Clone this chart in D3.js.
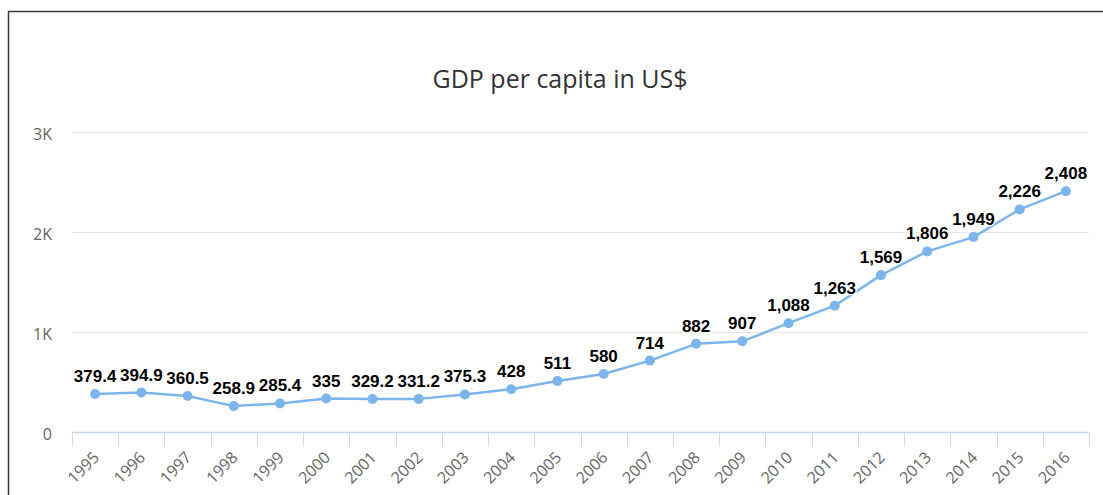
<!DOCTYPE html>
<html>
<head>
<meta charset="utf-8">
<script src="https://cdn.jsdelivr.net/npm/d3@7"></script>
<style>
  html, body { margin: 0; padding: 0; background: #fff; }
  svg { display: block; }
</style>
</head>
<body>
<svg id="chart" width="1103" height="495"></svg>
<script>
// Data
const years = ['1995', '1996', '1997', '1998', '1999', '2000', '2001', '2002', '2003', '2004', '2005',
  '2006', '2007', '2008', '2009', '2010', '2011', '2012', '2013', '2014', '2015', '2016'];
const gdpPerCapita = [379.4, 394.9, 360.5, 258.9, 285.4, 335, 329.2, 331.2, 375.3, 428, 511,
  580, 714, 882, 907, 1088, 1263, 1569, 1806, 1949, 2226, 2408];
const yTicks = [0, 1000, 2000, 3000];
const yTickLabels = ['0', '1K', '2K', '3K'];

const width = 1103;
const height = 495;
const margin = { top: 132, right: 14, bottom: 63, left: 72 };

const svg = d3.select('#chart');
const font = '"Open Sans", "DejaVu Sans", sans-serif';

// Frame (only top and left edges visible in the picture)
svg.append('path')
  .attr('d', `M8.5,${height} V11.5 H${width}`)
  .attr('fill', 'none')
  .attr('stroke', '#3a3a3a')
  .attr('stroke-width', 1.5);

// Title
svg.append('text')
  .attr('x', 560)
  .attr('y', 88)
  .attr('text-anchor', 'middle')
  .style('font-family', font)
  .style('font-size', '25px')
  .style('fill', '#333')
  .text('GDP per capita in US$');

// Scales
const xScale = d3.scaleBand()
  .domain(years)
  .range([margin.left, width - margin.right]);

const yScale = d3.scaleLinear()
  .domain([0, 3000])
  .range([height - margin.bottom, margin.top]);

const cx = d => xScale(d) + xScale.bandwidth() / 2;

// Grid lines
svg.append('g')
  .selectAll('line')
  .data(yTicks.slice(1))
  .enter().append('line')
  .attr('x1', margin.left)
  .attr('x2', width - margin.right)
  .attr('y1', d => Math.round(yScale(d)) + 0.5)
  .attr('y2', d => Math.round(yScale(d)) + 0.5)
  .attr('stroke', '#e6e6e6');

// Y axis labels
const yAxis = svg.append('g')
  .attr('transform', `translate(${margin.left - 20}, 2)`)
  .call(d3.axisLeft(yScale).tickValues(yTicks).tickSize(0).tickFormat((d, i) => yTickLabels[i]));
yAxis.select('.domain').remove();
yAxis.selectAll('text')
  .attr('x', 0)
  .style('font-family', font)
  .style('font-size', '16px')
  .style('fill', '#666');

// X axis line + ticks at band boundaries
const axisY = Math.round(yScale(0)) + 0.5;
svg.append('line')
  .attr('x1', margin.left)
  .attr('x2', width - margin.right)
  .attr('y1', axisY)
  .attr('y2', axisY)
  .attr('stroke', '#ccd6eb')
  .attr('stroke-width', 1.5);

const boundaries = years.map(d => xScale(d)).concat([xScale.range()[1]]);
svg.append('g')
  .selectAll('line')
  .data(boundaries)
  .enter().append('line')
  .attr('x1', d => Math.round(d) + 0.5)
  .attr('x2', d => Math.round(d) + 0.5)
  .attr('y1', axisY)
  .attr('y2', axisY + 14)
  .attr('stroke', '#ccd6eb');

// X labels rotated
svg.append('g')
  .selectAll('text')
  .data(years)
  .enter().append('text')
  .attr('transform', d => `translate(${cx(d) + 5}, ${axisY + 26}) rotate(-45)`)
  .attr('text-anchor', 'end')
  .style('font-family', font)
  .style('font-size', '16px')
  .style('fill', '#666')
  .text(d => d);

// Line
const points = years.map((d, i) => ({ year: d, value: gdpPerCapita[i] }));
const line = d3.line()
  .x(d => cx(d.year))
  .y(d => yScale(d.value));

svg.append('path')
  .datum(points)
  .attr('d', line)
  .attr('fill', 'none')
  .attr('stroke', '#7cb5ec')
  .attr('stroke-width', 2.5)
  .attr('stroke-linejoin', 'round');

// Markers
svg.append('g')
  .selectAll('circle')
  .data(points)
  .enter().append('circle')
  .attr('cx', d => cx(d.year))
  .attr('cy', d => yScale(d.value))
  .attr('r', 5)
  .attr('fill', '#7cb5ec');

// Data labels
const fmt = d3.format(',');
svg.append('g')
  .selectAll('text')
  .data(points)
  .enter().append('text')
  .attr('x', d => cx(d.year))
  .attr('y', d => yScale(d.value) - 12)
  .attr('text-anchor', 'middle')
  .style('font-family', '"Liberation Sans", Arial, sans-serif')
  .style('font-size', '17px')
  .style('font-weight', 'bold')
  .style('fill', '#000')
  .style('stroke', '#fff')
  .style('stroke-width', 2.5)
  .style('paint-order', 'stroke')
  .style('stroke-linejoin', 'round')
  .text(d => fmt(d.value));
</script>
</body>
</html>
